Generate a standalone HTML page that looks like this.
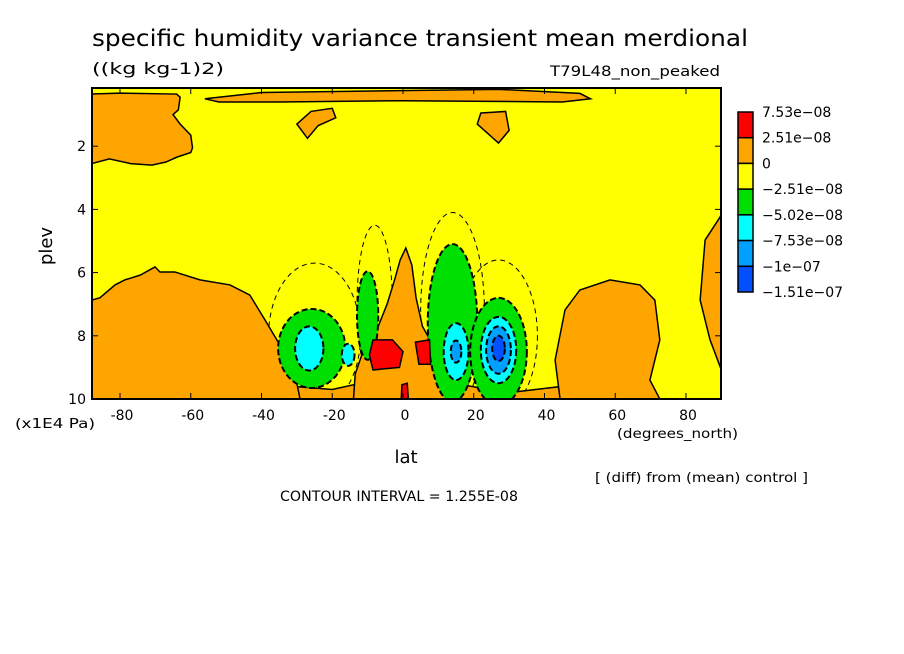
<!DOCTYPE html>
<html><head><meta charset="utf-8"><style>
html,body{margin:0;background:#fff;overflow:hidden;width:904px;height:654px;}
svg{display:block;font-family:"DejaVu Sans","Liberation Sans",sans-serif;}
</style></head><body>
<svg id="chart" width="904" height="654">
<text x="92" y="46" font-size="23" textLength="656" lengthAdjust="spacingAndGlyphs">specific humidity variance transient mean merdional</text>
<text x="92" y="74" font-size="16" textLength="132" lengthAdjust="spacingAndGlyphs">((kg kg-1)2)</text>
<text x="550" y="76" font-size="14" textLength="170" lengthAdjust="spacingAndGlyphs">T79L48_non_peaked</text>
<g id="plot"></g>
<text x="15" y="428" font-size="13" textLength="80" lengthAdjust="spacingAndGlyphs">(x1E4 Pa)</text>
<text x="617" y="438" font-size="13" textLength="121" lengthAdjust="spacingAndGlyphs">(degrees_north)</text>
<text x="406" y="463" font-size="18" text-anchor="middle">lat</text>
<text x="52" y="246" font-size="18" text-anchor="middle" transform="rotate(-90 52 246)">plev</text>
<text x="595" y="482" font-size="13" textLength="213" lengthAdjust="spacingAndGlyphs">[ (diff) from (mean) control ]</text>
<text x="280" y="501" font-size="14" textLength="238" lengthAdjust="spacingAndGlyphs">CONTOUR INTERVAL = 1.255E-08</text>
<g id="legend"></g>
</svg>
<script>
const xTicks=[-80,-60,-40,-20,0,20,40,60,80];
const yTicks=[2,4,6,8,10];
const legendLabels=["7.53e-08","2.51e-08","0","-2.51e-08","-5.02e-08","-7.53e-08","-1e-07","-1.51e-07"];
const legendColors=["#ff0000","#ffa500","#ffff00","#00e000","#00ffff","#00a0ff","#0050ff"];
// contour regions: [lat,plev] vertices
const orangeLeftTop=[[-88,0.35],[-80,0.32],[-64,0.35],[-63,0.45],[-63.5,0.85],[-65,1],[-63,1.3],[-60,1.65],[-59.5,2.05],[-60,2.2],[-64,2.35],[-67,2.5],[-71,2.6],[-77,2.55],[-83,2.4],[-88,2.55]];
const orangeTopStrip=[[-56,0.5],[-40,0.3],[27,0.2],[50,0.33],[53,0.5],[45,0.6],[0,0.56],[-35,0.6],[-52,0.6]];
const orangeBlobL=[[-30,1.3],[-26,0.9],[-20,0.8],[-19,1.1],[-24,1.35],[-27,1.75]];
const orangeBlobR=[[22,0.95],[29,0.9],[30,1.5],[27,1.9],[24,1.6],[21,1.3]];
const orangeLeftBottom=[[-88,6.87],[-85.7,6.8],[-81.4,6.39],[-78.6,6.23],[-74.3,6.08],[-70.1,5.82],[-68.7,5.98],[-64.5,5.98],[-57.4,6.23],[-48.9,6.39],[-43.3,6.71],[-39,7.5],[-34.8,8.29],[-30.5,9.24],[-29.1,10],[-88,10]];
const orangeBottomBand=[[-31,9.6],[-20,9.7],[-12,9.5],[14,9.5],[30,9.8],[45,9.6],[46,10],[-31,10]];
const orangeRightBottom=[[44.4,10],[43,8.77],[45.8,7.18],[50,6.55],[58.5,6.23],[67,6.39],[71.2,6.87],[72.6,8.13],[69.8,9.4],[72.6,10]];
const orangeRightEdge=[[90,4.18],[85.4,4.97],[84,6.87],[86.8,8.13],[90,9.08]];
const orangeCenter=[[-14,10],[-13.5,9.2],[-11,8.4],[-7,7.7],[-4.5,7.0],[-2.3,6.2],[-0.8,5.6],[0.8,5.22],[2.5,5.76],[3.7,6.8],[5.5,7.7],[8,8.2],[12,8.3],[14.7,8.9],[14,10]];
const redLeft=[[-8.5,8.13],[-3,8.13],[0,8.5],[-1,9.0],[-8.5,9.08],[-9.5,8.6]];
const redRight=[[3.5,8.2],[7.5,8.13],[7.8,8.9],[4.5,8.9]];
const redBottom=[[-0.3,9.55],[1.2,9.5],[1.5,10],[-0.5,10]];
// blobs: [lat, plev, rLat, rPlev, colorIndex]
const blobs=[[-25.8,8.4,9.5,1.25,3],[-10,7.36,3,1.4,3],[14,7.6,7,2.5,3],[27,8.5,8,1.7,3],
[-26.5,8.4,4,0.7,4],[-15.5,8.6,1.8,0.35,4],[15,8.5,3.5,0.9,4],[27,8.45,5,1.05,4],
[15,8.5,1.5,0.35,5],[27,8.45,3.5,0.75,5],[27,8.4,1.8,0.4,6]];
const dashed=[[-25,8.0,13,2.3],[-8,7.0,5,2.5],[14,7.2,9,3.1],[27,8.0,11,2.4]];

const NS="http://www.w3.org/2000/svg";
const X0=92,X1=721,Y0=88,Y1=399;
function xS(lat){return 403+lat*3.5375;}
function yS(p){return 399-(10-p)*31.6;}
function mk(tag,attrs,parent){const e=document.createElementNS(NS,tag);for(const k in attrs)e.setAttribute(k,attrs[k]);parent.appendChild(e);return e;}
const plot=document.getElementById('plot');
const clip=mk('clipPath',{id:'cp'},plot);mk('rect',{x:X0,y:Y0,width:X1-X0,height:Y1-Y0},clip);
const g=mk('g',{'clip-path':'url(#cp)'},plot);
let bg=mk('rect',{x:X0,y:Y0,width:X1-X0,height:Y1-Y0,fill:'#ffff00'},g);


function poly(pts,fill,name){const e=mk('polygon',{points:pts.map(p=>xS(p[0])+','+yS(p[1])).join(' '),fill:fill,stroke:'#000','stroke-width':1.5},g);

}
dashed.forEach((d,i)=>{const e=mk('ellipse',{cx:xS(d[0]),cy:yS(d[1]),rx:d[2]*3.5375,ry:d[3]*31.6,fill:'none',stroke:'#000','stroke-width':1,'stroke-dasharray':'5,4'},g);

});
poly(orangeLeftTop,'#ffa500','orange-region-left-top');
poly(orangeTopStrip,'#ffa500','orange-region-top-strip');
poly(orangeBlobL,'#ffa500','orange-blob-left');
poly(orangeBlobR,'#ffa500','orange-blob-right');
poly(orangeBottomBand,'#ffa500','orange-region-bottom-band');
poly(orangeLeftBottom,'#ffa500','orange-region-left-bottom');
poly(orangeRightBottom,'#ffa500','orange-region-right-bottom');
poly(orangeRightEdge,'#ffa500','orange-region-right-edge');
poly(orangeCenter,'#ffa500','orange-region-center');
blobs.forEach((b,i)=>{const e=mk('ellipse',{cx:xS(b[0]),cy:yS(b[1]),rx:b[2]*3.5375,ry:b[3]*31.6,fill:legendColors[b[4]],stroke:'#000','stroke-width':2,'stroke-dasharray':'6,3'},g);

});
poly(redLeft,'#ff0000','red-region-left');
poly(redRight,'#ff0000','red-region-right');
poly(redBottom,'#ff0000','red-region-bottom');
[["0.00",-83,0.65],["0.00",-39,0.6],["0.00",36,0.25],["0.00",65,6.5]].forEach((l,i)=>{const t=mk('text',{x:xS(l[0]),y:yS(l[1])+5,'font-size':13,'text-anchor':'middle'},g);t.textContent=l[0];

});
let fr=mk('rect',{x:X0,y:Y0,width:X1-X0,height:Y1-Y0,fill:'none',stroke:'#000','stroke-width':2},plot);


xTicks.forEach(v=>{const x=xS(v);mk('line',{x1:x,x2:x,y1:Y1,y2:Y1-6,stroke:'#000'},plot);mk('line',{x1:x,x2:x,y1:Y0,y2:Y0+6,stroke:'#000'},plot);
const t=mk('text',{x:x+2,y:Y1+21,'font-size':14,'text-anchor':'middle'},plot);t.textContent=v;

});
yTicks.forEach(v=>{const y=yS(v);mk('line',{x1:X0,x2:X0+6,y1:y,y2:y,stroke:'#000'},plot);mk('line',{x1:X1,x2:X1-6,y1:y,y2:y,stroke:'#000'},plot);
const t=mk('text',{x:X0-6,y:y+5,'font-size':14,'text-anchor':'end'},plot);t.textContent=v;

});
const lg=document.getElementById('legend');
const LY0=112,LY1=292,step=(LY1-LY0)/legendColors.length;
legendColors.forEach((c,i)=>{const r=mk('rect',{x:738,y:LY0+i*step,width:15,height:step,fill:c,stroke:'#000','stroke-width':1.5},lg);

});
legendLabels.forEach((l,i)=>{const t=mk('text',{x:762,y:LY0+i*step+5,'font-size':14},lg);t.textContent=l.replace(/-/g,'\u2212');

});
</script>
</body></html>
